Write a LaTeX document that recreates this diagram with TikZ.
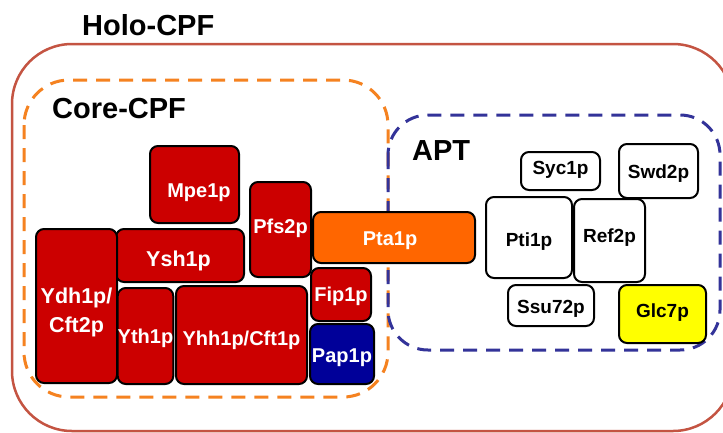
\documentclass[tikz,border=0pt]{standalone}
\usepackage{fontspec}
\setmainfont{Liberation Sans}
\definecolor{holo}{RGB}{196,84,66}
\definecolor{coreor}{RGB}{245,130,32}
\definecolor{aptblue}{RGB}{51,51,153}
\definecolor{redbox}{RGB}{204,0,0}
\definecolor{ptaor}{RGB}{255,102,0}
\definecolor{papblue}{RGB}{0,0,153}
\definecolor{glcyel}{RGB}{255,255,0}
% name, x1, y1, x2, y2, style, text, text shift down (px)
\newcommand{\bx}[8]{%
  \node[#6, minimum width={(#4-#2)*1pt}, minimum height={(#5-#3)*1pt}] (#1)
    at ({(#2+#4)/2},{(#3+#5)/2}) {\raisebox{-#8pt}[\height][\depth]{#7}};}
\tikzset{
  prot/.style={draw=black, line width=2pt, rounded corners=8pt, inner sep=0pt,
    font=\bfseries\fontsize{20}{24}\selectfont},
  redp/.style={prot, fill=redbox, text=white},
  whitep/.style={prot, fill=white, text=black, font=\bfseries\fontsize{19}{23}\selectfont},
  grouplabel/.style={anchor=base west, inner sep=0pt, font=\bfseries\fontsize{29}{34}\selectfont}
}
\begin{document}
\begin{tikzpicture}[x=1pt,y=-1pt]
\useasboundingbox (0,0) rectangle (723,432);
\clip (0,0) rectangle (723,432);
\fill[white] (0,0) rectangle (723,432);
% groups
\draw[holo, line width=2.5pt, rounded corners=60pt] (12,44) rectangle (733,431);
\draw[coreor, line width=3pt, dash pattern=on 14pt off 9pt, rounded corners=45pt] (24,80) rectangle (388,397);
\draw[aptblue, line width=3pt, dash pattern=on 14pt off 9pt, rounded corners=40pt] (388,115) rectangle (720,350);
\node[grouplabel] (holo) at (82,35) {Holo-CPF};
\node[grouplabel] (core) at (52,118) {Core-CPF};
\node[grouplabel] (apt) at (412,160) {APT};
% core CPF proteins
\bx{mpe}{150}{146}{239}{223}{redp}{\hspace*{9pt}Mpe1p}{8}
\bx{pfs}{250}{182}{311}{277}{redp}{Pfs2p}{-1}
\bx{pta}{313}{212}{475}{263}{prot, fill=ptaor, text=white}{Pta1p\hspace*{8pt}}{3}
\bx{ysh}{116}{229}{244}{282}{redp, font=\bfseries\fontsize{21.5}{25}\selectfont}{Ysh1p\hspace*{3pt}}{5}
\bx{ydh}{36}{229}{117}{383}{redp, font=\bfseries\fontsize{21.5}{29}\selectfont}{\begin{tabular}{@{}c@{}}Ydh1p/\\Cft2p\end{tabular}}{6}
\bx{yth}{119}{288}{172}{384}{redp}{Yth1p}{2}
\bx{yhh}{176}{286}{307}{384}{redp}{Yhh1p/Cft1p}{5}
\bx{fip}{311}{268}{371}{321}{redp}{Fip1p}{2}
\bx{pap}{310}{324}{374}{384}{prot, fill=papblue, text=white}{Pap1p}{4}
% APT proteins
\bx{syc}{521}{152}{600}{190}{whitep}{Syc1p}{-1}
\bx{swd}{619}{144}{698}{198}{whitep}{Swd2p}{3}
\bx{pti}{486}{197}{572}{278}{whitep}{Pti1p}{4}
\bx{ref}{574}{199}{645}{282}{whitep}{Ref2p}{-3}
\bx{ssu}{508}{285}{594}{326}{whitep}{Ssu72p}{3}
\bx{glc}{619}{285}{706}{343}{whitep, fill=glcyel}{Glc7p}{-1}
\end{tikzpicture}
\end{document}
